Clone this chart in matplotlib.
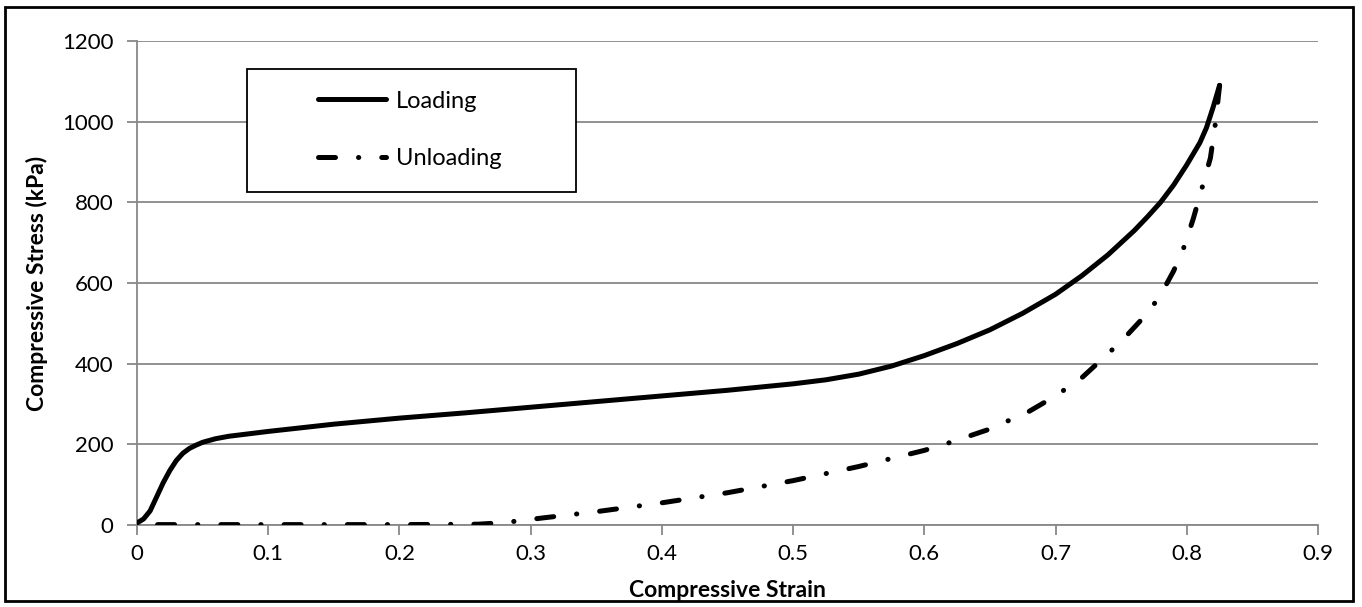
import matplotlib.pyplot as plt
from matplotlib.patches import Rectangle

plt.rcParams['font.family'] = ['Lato', 'DejaVu Sans']

# loading curve (strain, kPa)
load_strain = [0.0, 0.005, 0.01, 0.015, 0.02, 0.025, 0.03, 0.035, 0.04, 0.045, 0.05, 0.06, 0.07,
               0.08, 0.1, 0.15, 0.2, 0.25, 0.3, 0.35, 0.4, 0.45, 0.5, 0.525, 0.55, 0.575,
               0.6, 0.625, 0.65, 0.675, 0.7, 0.72, 0.74, 0.76, 0.77, 0.78, 0.79, 0.8, 0.81,
               0.815, 0.82, 0.825]
load_stress = [5, 15, 35, 70, 105, 135, 160, 178, 190, 198, 205, 214, 220,
               224, 232, 250, 265, 278, 292, 306, 320, 334, 350, 360, 374, 394,
               420, 450, 484, 525, 572, 618, 670, 730, 764, 800, 843, 893, 948,
               985, 1035, 1090]

# unloading curve
unload_strain = [0.825, 0.822, 0.818, 0.812, 0.805, 0.798, 0.79, 0.78, 0.77, 0.76,
                 0.75, 0.74, 0.73, 0.72, 0.7, 0.68, 0.65, 0.62, 0.6, 0.55, 0.5,
                 0.45, 0.4, 0.35, 0.3, 0.28, 0.26, 0.2, 0.1, 0.01]
unload_stress = [1090, 1000, 910, 840, 760, 690, 630, 570, 525, 490,
                 455, 425, 395, 365, 320, 282, 238, 205, 185, 145, 110,
                 80, 55, 33, 14, 6, 2, 1, 1, 1]

xticks = [0, 0.1, 0.2, 0.3, 0.4, 0.5, 0.6, 0.7, 0.8, 0.9]
xtick_labels = ['0', '0.1', '0.2', '0.3', '0.4', '0.5', '0.6', '0.7', '0.8', '0.9']
yticks = [0, 200, 400, 600, 800, 1000, 1200]

grid_color = '#888888'
dashdot = (0, (3.4, 4.6, 0.05, 4.6))

fig = plt.figure(figsize=(13.62, 6.07), dpi=100)
ax = fig.add_axes([137 / 1362, 1 - 525 / 607, 1181 / 1362, 484 / 607])

ax.plot(load_strain, load_stress, color='black', lw=3.6, solid_capstyle='round',
        solid_joinstyle='round', label='Loading', zorder=3)
ax.plot(unload_strain, unload_stress, color='black', lw=3.6, linestyle=dashdot,
        dash_capstyle='round', label='Unloading', zorder=3)

ax.set_xlim(0, 0.9)
ax.set_ylim(0, 1200)
ax.set_xticks(xticks)
ax.set_xticklabels(xtick_labels)
ax.set_yticks(yticks)
ax.yaxis.grid(True, color=grid_color, lw=1.3)
ax.set_axisbelow(True)
for s in ['top', 'right']:
    ax.spines[s].set_visible(False)
for s in ['left', 'bottom']:
    ax.spines[s].set_color(grid_color)
    ax.spines[s].set_linewidth(1.3)
ax.tick_params(axis='both', colors=grid_color, width=1.3, length=7, labelsize=16,
               labelcolor='black')
ax.tick_params(axis='x', pad=7)
ax.tick_params(axis='y', pad=10)

ax.set_xlabel('Compressive Strain', fontsize=16.5, fontweight='bold', labelpad=11)
ax.set_ylabel('Compressive Stress (kPa)', fontsize=16.5, fontweight='bold', labelpad=10)

# legend box
x0 = (247 - 137) / 1181
x1 = (576 - 137) / 1181
y0 = (525 - 192) / 484
y1 = (525 - 69) / 484
ax.add_patch(Rectangle((x0, y0), x1 - x0, y1 - y0, transform=ax.transAxes,
                       facecolor='white', edgecolor='black', lw=1.3, zorder=4))
leg = ax.legend(loc='center left', bbox_to_anchor=((318 - 137) / 1181, (525 - 130) / 484),
                frameon=False, fontsize=17, handlelength=2.9, handletextpad=0.4,
                labelspacing=1.55, borderpad=0, borderaxespad=0)
leg.set_zorder(5)

# outer chart border
fig.add_artist(Rectangle((5 / 1362, 1 - 601 / 607), 1348 / 1362, 594 / 607,
                         transform=fig.transFigure, fill=False, edgecolor='black', lw=2))

fig.savefig('out.png', dpi=100)
